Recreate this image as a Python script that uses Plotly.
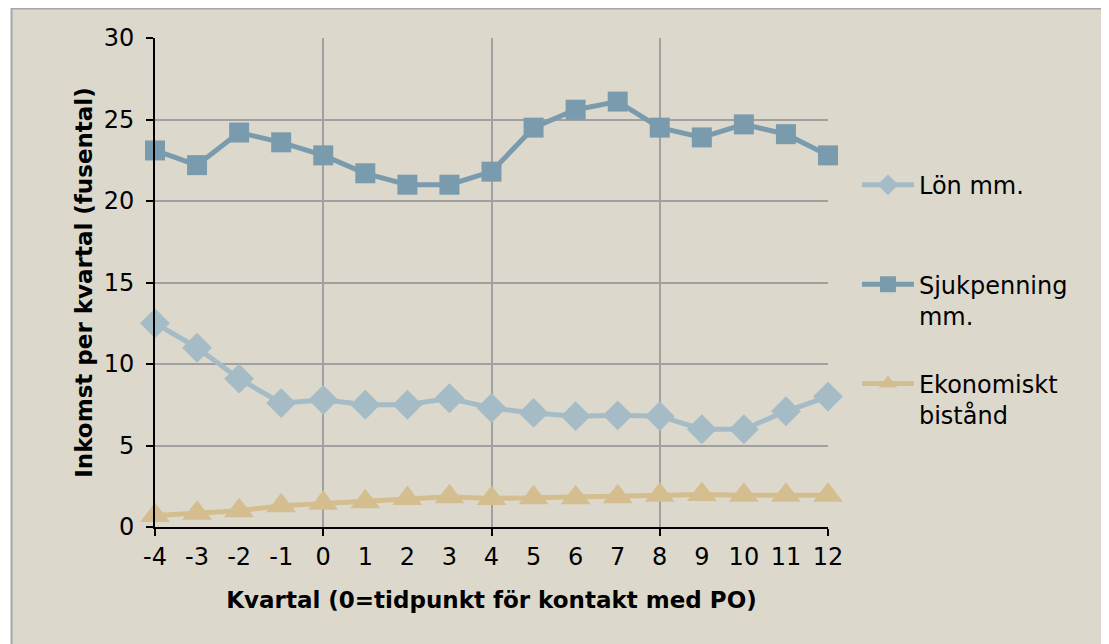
import plotly.graph_objects as go

# Quarters relative to contact with PO
kvartal = [-4, -3, -2, -1, 0, 1, 2, 3, 4, 5, 6, 7, 8, 9, 10, 11, 12]
kvartal_labels = [str(k) for k in kvartal]

# Income per quarter (thousands)
lon = [12.5, 11.0, 9.1, 7.6, 7.8, 7.5, 7.5, 7.9, 7.3, 7.0, 6.8, 6.85, 6.8, 6.0, 6.0, 7.1, 8.0]
sjukpenning = [23.1, 22.2, 24.2, 23.6, 22.8, 21.7, 21.0, 21.0, 21.8, 24.5, 25.6, 26.1, 24.5, 23.9, 24.7, 24.1, 22.8]
bistand = [0.7, 0.85, 1.0, 1.3, 1.45, 1.55, 1.75, 1.85, 1.75, 1.8, 1.8, 1.85, 1.95, 2.0, 1.95, 1.95, 1.95]

series = [
    ("Lön mm.<br>\u00a0", lon, "#A5BCC7", "diamond", 23),
    ("Sjukpenning<br>mm.", sjukpenning, "#7A9BAD", "square", 20),
    ("Ekonomiskt<br>bistånd", bistand, "#D4BE8F", "triangle-up", 26),
]

FONT = "DejaVu Sans"
BG = "#DCD9CC"

fig = go.Figure()

for i, (name, values, color, symbol, size) in enumerate(series):
    fig.add_trace(
        go.Scatter(
            x=kvartal,
            y=values,
            name=name,
            mode="lines+markers",
            line=dict(color=color, width=5),
            marker=dict(symbol=symbol, size=size, color=color),
            legendgroup=f"g{i}",
            cliponaxis=False,
        )
    )

# invisible trace that carries the per-quarter tick labels
fig.add_trace(
    go.Scatter(x=kvartal, y=lon, xaxis="x2", mode="markers",
               marker=dict(opacity=0), showlegend=False, hoverinfo="skip")
)

# outer frame
fig.add_shape(
    type="rect", xref="paper", yref="paper",
    x0=-0.2132, x1=1.4094, y0=-0.26, y1=1.0603,
    fillcolor=BG, line=dict(color="#A6A6A6", width=2), layer="below",
)

fig.update_layout(
    width=1100,
    height=636,
    paper_bgcolor="white",
    plot_bgcolor="white",
    font=dict(family=FONT, size=24, color="black"),
    margin=dict(l=147, r=280, t=30, b=117),
    showlegend=True,
    legend=dict(
        x=1.043, y=0.745, xanchor="left", yanchor="top",
        bgcolor="rgba(0,0,0,0)",
        font=dict(family=FONT, size=24),
        tracegroupgap=34,
        itemwidth=52,
        valign="top",
    ),
    xaxis=dict(
        range=[-4, 12],
        tickmode="linear", tick0=-4, dtick=4,
        showticklabels=False,
        ticks="outside", ticklen=7, tickcolor="black", tickwidth=2,
        showgrid=True, gridcolor="#A0A0A0", gridwidth=2,
        showline=True, linecolor="black", linewidth=2,
        zeroline=False,
        title=dict(text="<b>Kvartal (0=tidpunkt för kontakt med PO)</b>",
                   font=dict(size=23), standoff=57),
    ),
    xaxis2=dict(
        range=[-4, 12], overlaying="x", side="bottom",
        tickmode="array", tickvals=kvartal, ticktext=kvartal_labels,
        ticks="outside", ticklen=7, tickcolor="rgba(0,0,0,0)",
        ticklabelstandoff=1,
        showgrid=False, showline=False, zeroline=False,
        tickfont=dict(size=24),
    ),
    yaxis=dict(
        range=[0, 30],
        tickmode="linear", tick0=0, dtick=5,
        ticks="outside", ticklen=7, tickcolor="black", tickwidth=2,
        ticklabelstandoff=7,
        showgrid=True, gridcolor="#A0A0A0", gridwidth=2,
        showline=True, linecolor="black", linewidth=2,
        zeroline=False,
        title=dict(text="<b>Inkomst per kvartal (fusental)</b>",
                   font=dict(size=23), standoff=5),
    ),
)

fig.write_html("out.html")
